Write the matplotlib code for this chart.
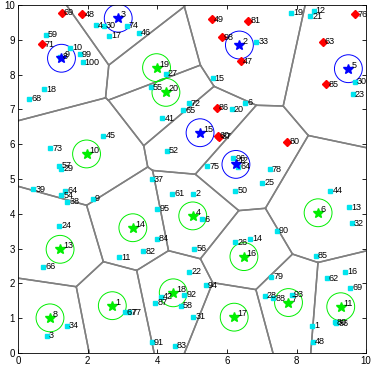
import matplotlib
matplotlib.use('Agg')
import matplotlib.pyplot as plt
from matplotlib.patches import Circle
import numpy as np

plt.rcParams['font.family'] = ['Liberation Sans', 'DejaVu Sans']

# facility centres: x, y, label, kind (b = blue, g = green)
cx = [2.71, 6.36, 2.88, 5.02, 9.49, 8.62, 7.77, 0.92, 1.25, 1.97,
      9.27, 6.26, 1.21, 3.30, 5.23, 6.49, 6.21, 4.46, 3.98, 4.25]
cy = [1.36, 8.85, 9.62, 3.94, 8.17, 4.03, 1.45, 1.01, 8.47, 5.72,
      1.33, 5.42, 2.98, 3.60, 6.33, 2.77, 1.03, 1.73, 8.20, 7.49]
c_kind = ['g', 'b', 'b', 'g', 'b', 'g', 'g', 'g', 'b', 'g',
          'g', 'b', 'g', 'g', 'b', 'g', 'g', 'g', 'g', 'g']
c_lab = [str(i + 1) for i in range(20)]
radius = 0.4

# served customers (cyan squares)
px = [2.24, 2.47, 3.12, 2.61, 0.80, 1.49, 1.21, 1.78, 1.86, 0.76, 0.33, 3.48,
      4.25, 5.59, 3.82, 4.91, 4.75, 6.14, 6.52, 4.15, 6.85, 7.84, 8.49, 8.39,
      9.68, 9.61, 0.92, 2.45, 1.19, 1.25, 0.44, 1.35, 1.25, 1.42, 2.15, 1.19,
      4.27, 5.44, 6.19, 6.33, 3.84, 4.43, 5.04, 6.24, 4.00, 5.30, 7.23, 7.02,
      8.97, 9.51, 9.58, 0.73, 1.40, 0.82, 2.91, 3.07, 3.20, 3.98, 3.60, 5.06,
      6.24, 4.92, 5.40, 4.11, 4.77, 3.94, 4.67, 5.04, 3.84, 4.51, 7.43, 6.67,
      8.55, 9.40, 8.87, 7.28, 9.54, 7.09, 7.33, 7.86, 9.10, 9.14, 8.44, 8.46]
py = [9.42, 9.40, 9.40, 9.12, 9.15, 8.77, 8.51, 8.58, 8.35, 7.58, 7.30, 9.21,
      8.02, 7.89, 7.63, 7.17, 6.98, 7.00, 7.19, 6.75, 8.95, 9.78, 9.83, 9.68,
      7.80, 7.44, 5.88, 6.24, 5.38, 5.29, 4.71, 4.66, 4.54, 4.35, 4.43, 3.66,
      5.81, 5.37, 5.59, 5.35, 5.00, 4.57, 4.57, 4.66, 4.14, 3.85, 5.28, 4.89,
      4.66, 4.19, 3.73, 2.48, 0.78, 0.50, 2.75, 1.17, 1.17, 3.29, 2.93, 2.99,
      3.18, 2.34, 1.95, 1.62, 1.68, 1.45, 1.36, 1.04, 0.31, 0.21, 3.51, 3.29,
      2.80, 2.34, 2.15, 2.19, 1.88, 1.64, 1.58, 1.67, 0.88, 0.86, 0.79, 0.33]
p_lab = ['4', '30', '74', '17', '59', '10', '8', '99', '100', '18', '68', '46',
         '27', '15', '55', '72', '65', '20', '6', '41', '33', '19', '12', '21',
         '30', '23', '73', '45', '57', '29', '39', '64', '54', '38', '9', '24',
         '52', '75', '96', '64', '37', '61', '2', '50', '95', '6', '78', '25',
         '44', '13', '32', '66', '34', '3', '11', '67', '77', '84', '82', '56',
         '26', '22', '94', '42', '92', '87', '58', '31', '91', '83', '90', '14',
         '85', '16', '62', '79', '69', '28', '88', '93', '80', '86', '1', '48']

# unserved customers (red diamonds)
rx = [1.26, 1.85, 0.70, 5.57, 5.85, 6.41, 5.71, 6.62, 9.68, 8.75, 8.85, 5.74, 5.78, 7.74]
ry = [9.78, 9.74, 8.87, 9.59, 9.07, 8.39, 7.05, 9.55, 9.74, 8.95, 7.73, 6.25, 6.22, 6.07]
r_lab = ['69', '48', '71', '49', '98', '47', '86', '81', '76', '63', '85', '60', '87', '80']


def voronoi_cells(xs, ys, lo=0.0, hi=10.0):
    pts = np.column_stack([xs, ys])
    cells = []
    for i, p in enumerate(pts):
        poly = [(lo, lo), (hi, lo), (hi, hi), (lo, hi)]
        for j, q in enumerate(pts):
            if i == j:
                continue
            n = q - p
            m = (p + q) / 2
            new = []
            for k in range(len(poly)):
                a = np.array(poly[k])
                b = np.array(poly[(k + 1) % len(poly)])
                da = np.dot(a - m, n)
                db = np.dot(b - m, n)
                if da <= 0:
                    new.append(tuple(a))
                if da * db < 0:
                    t = da / (da - db)
                    new.append(tuple(a + t * (b - a)))
            poly = new
        cells.append(poly)
    return cells


def on_border(a, b, lo=0.0, hi=10.0, eps=1e-9):
    for k in range(2):
        for v in (lo, hi):
            if abs(a[k] - v) < eps and abs(b[k] - v) < eps:
                return True
    return False


fig = plt.figure(figsize=(3.74, 3.71), dpi=100)
ax = fig.add_axes([0.048, 0.0485, 0.931, 0.938])

for poly in voronoi_cells(cx, cy):
    for k in range(len(poly)):
        a = poly[k]
        b = poly[(k + 1) % len(poly)]
        if on_border(a, b):
            continue
        ax.plot([a[0], b[0]], [a[1], b[1]], color='#808080', lw=1.1, zorder=1)

for x, y, k, lab in zip(cx, cy, c_kind, c_lab):
    col = '#0000ff' if k == 'b' else '#00ee00'
    ax.add_patch(Circle((x, y), radius, fill=False, ec=col, lw=0.7, zorder=2))
    ax.plot(x, y, marker='*', color=col, ms=7.5, mec=col, zorder=4)
    ax.text(x + 0.08, y + 0.1, lab, fontsize=6.5, ha='left', va='center', zorder=5)

ax.plot(px, py, 's', color='#00e5ee', ms=3.5, mec='#00e5ee', zorder=3)
for x, y, lab in zip(px, py, p_lab):
    ax.text(x + 0.06, y, lab, fontsize=6.5, ha='left', va='center', zorder=5)

ax.plot(rx, ry, 'D', color='#ff0000', ms=4, mec='#ff0000', zorder=3)
for x, y, lab in zip(rx, ry, r_lab):
    ax.text(x + 0.06, y, lab, fontsize=6.5, ha='left', va='center', zorder=5)

ax.set_xlim(0, 10)
ax.set_ylim(0, 10)
ax.set_xticks(range(0, 11, 2))
ax.set_yticks(range(0, 11))
ax.tick_params(direction='in', top=True, right=True, labelsize=7, length=3, width=0.6, pad=2)
for s in ax.spines.values():
    s.set_linewidth(0.6)

fig.savefig('out.png', dpi=100)
